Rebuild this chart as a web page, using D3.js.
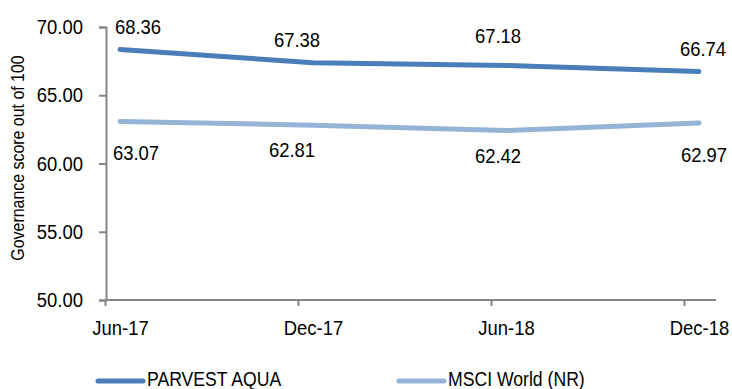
<!DOCTYPE html>
<html>
<head>
<meta charset="utf-8">
<script src="https://cdn.jsdelivr.net/npm/d3@7"></script>
<style>
  html, body { margin: 0; padding: 0; background: #ffffff; }
  svg { display: block; font-family: "Liberation Sans", Arial, sans-serif; }
</style>
</head>
<body>
<svg id="chart" width="732" height="389"></svg>
<script>
// ---- data ----
const categories = ["Jun-17", "Dec-17", "Jun-18", "Dec-18"];
const parvestAqua = [68.36, 67.38, 67.18, 66.74];
const msciWorld = [63.07, 62.81, 62.42, 62.97];
const seriesNames = ["PARVEST AQUA", "MSCI World (NR)"];
const yTicks = [50, 55, 60, 65, 70];
const yTitle = "Governance score out of 100";

// ---- layout (not data) ----
const colors = ["#4a7ebb", "#95b3d7"];
const labelDx = [[18, -16, -8, 4], [16, -21, -8, 5]];
const labelDy = [[-15, -16, -22, -15], [38, 32, 33, 39]];
const SX = 0.9;          // horizontal condensing to mimic a narrow face
const FS = 20.5;

const svg = d3.select("#chart");
const x = d3.scalePoint().domain(categories).range([120, 699]);
const y = d3.scaleLinear().domain([50, 70]).range([300, 27]);
const axisColor = "#868686";

// Y axis
const yAxis = d3.axisLeft(y).tickValues(yTicks).tickFormat(d3.format(".2f")).tickSize(7).tickPadding(16);
const gy = svg.append("g").attr("transform", "translate(106,0)").call(yAxis);
gy.attr("font-family", null);
gy.select(".domain").attr("stroke", axisColor).attr("stroke-width", 2);
gy.selectAll(".tick line").attr("stroke", axisColor).attr("stroke-width", 2);
gy.selectAll(".tick text")
  .attr("font-size", FS).attr("fill", "#000")
  .attr("x", -23 / SX)
  .attr("transform", `scale(${SX},1)`);

// X axis (domain line from plot-left to plot-right)
const xAxis = d3.axisBottom(x).tickSizeOuter(0).tickSize(6).tickPadding(14);
const gx = svg.append("g").attr("transform", "translate(0,300)").call(xAxis);
gx.attr("font-family", null);
gx.select(".domain").attr("d", "M106,0H716").attr("stroke", axisColor).attr("stroke-width", 2);
gx.selectAll(".tick line").attr("x1", -15).attr("x2", -15).attr("stroke", axisColor).attr("stroke-width", 2);
gx.selectAll(".tick text")
  .attr("font-size", FS).attr("fill", "#000")
  .attr("transform", `scale(${SX},1)`);

// Y axis title
svg.append("text")
  .attr("transform", `translate(24,158) rotate(-90) scale(${SX},1)`)
  .attr("text-anchor", "middle")
  .attr("font-size", 17.7)
  .attr("fill", "#000")
  .text(yTitle);

// Lines
const allSeries = [parvestAqua, msciWorld];
const line = d3.line().x((d, i) => x(categories[i])).y(d => y(d));
allSeries.forEach((s, si) => {
  svg.append("path")
    .datum(s)
    .attr("d", line)
    .attr("fill", "none")
    .attr("stroke", colors[si])
    .attr("stroke-width", 5)
    .attr("stroke-linecap", "round")
    .attr("stroke-linejoin", "round");
});

// Data labels
allSeries.forEach((s, si) => {
  svg.append("g").selectAll("text")
    .data(s)
    .join("text")
    .attr("transform", (d, i) =>
      `translate(${x(categories[i]) + labelDx[si][i]},${y(d) + labelDy[si][i]}) scale(${SX},1)`)
    .attr("text-anchor", "middle")
    .attr("font-size", FS)
    .attr("fill", "#000")
    .text(d => d3.format(".2f")(d));
});

// Legend
const legendX = [98, 399];
seriesNames.forEach((name, i) => {
  const g = svg.append("g").attr("transform", `translate(${legendX[i]},381)`);
  g.append("line").attr("x1", 0).attr("x2", 45).attr("y1", 0).attr("y2", 0)
    .attr("stroke", colors[i]).attr("stroke-width", 5).attr("stroke-linecap", "round");
  g.append("text").attr("transform", `translate(49,4.5) scale(${SX},1)`)
    .attr("font-size", 19.6).attr("fill", "#000").text(name);
});
</script>
</body>
</html>
